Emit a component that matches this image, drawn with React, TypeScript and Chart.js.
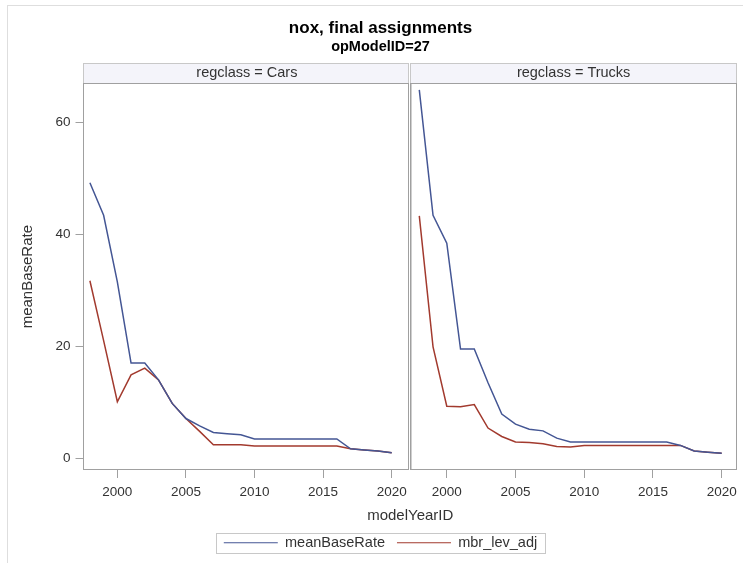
import React, { useEffect, useRef } from "react";
import { Chart, registerables } from "chart.js";

Chart.register(...registerables);

const YEARS = [1998, 1999, 2000, 2001, 2002, 2003, 2004, 2005, 2006, 2007, 2008, 2009, 2010, 2011, 2012, 2013, 2014, 2015, 2016, 2017, 2018, 2019, 2020];

const CARS_MEAN = [49.2, 43.4, 31.5, 17.0, 17.0, 14.0, 9.8, 7.1, 5.8, 4.6, 4.4, 4.2, 3.45, 3.45, 3.45, 3.45, 3.45, 3.45, 3.45, 1.7, 1.5, 1.3, 1.0];
const CARS_ADJ = [31.7, 21.0, 10.1, 14.9, 16.1, 14.0, 9.8, 7.1, 4.8, 2.4, 2.4, 2.4, 2.2, 2.2, 2.2, 2.2, 2.2, 2.2, 2.2, 1.7, 1.5, 1.3, 1.0];
const TRUCKS_MEAN = [65.8, 43.4, 38.4, 19.5, 19.5, 13.5, 7.9, 6.1, 5.2, 4.9, 3.6, 2.9, 2.9, 2.9, 2.9, 2.9, 2.9, 2.9, 2.9, 2.3, 1.3, 1.1, 0.9];
const TRUCKS_ADJ = [43.3, 19.9, 9.3, 9.2, 9.6, 5.4, 3.9, 2.9, 2.8, 2.6, 2.1, 2.0, 2.3, 2.3, 2.3, 2.3, 2.3, 2.3, 2.3, 2.3, 1.3, 1.1, 0.9];

const SERIES_NAMES = ["meanBaseRate", "mbr_lev_adj"];
const PANEL_NAMES = ["regclass = Cars", "regclass = Trucks"];
const TITLE = "nox, final assignments";
const SUBTITLE = "opModelID=27";
const X_TITLE = "modelYearID";
const Y_TITLE = "meanBaseRate";

const BLUE = "#445694";
const RED = "#A23A2E";
const FONT = "'Liberation Sans', Arial, sans-serif";
const TXT = "#333333";

const toPts = (vals: number[]) => YEARS.map((yr, i) => ({ x: yr, y: vals[i] }));

const panelPlugin = {
  id: "panelDecor",
  beforeDraw(chart: any) {
    const { ctx, chartArea } = chart;
    const x1 = chart.scales.x1;
    const x2 = chart.scales.x2;
    const hdr = chart.scales.hCars;
    ctx.save();
    // outer graph border
    ctx.strokeStyle = "#dedede";
    ctx.lineWidth = 1;
    ctx.strokeRect(7.5, 5.5, 900, 900);
    // header strips
    const stripTop = Math.round(hdr.top) + 0.5;
    const top = Math.round(chartArea.top) + 0.5;
    const bottom = Math.round(chartArea.bottom) - 0.5;
    const l1 = Math.floor(x1.left) + 0.5;
    const r1 = Math.round(x1.right) - 1.5;
    const l2 = Math.round(x2.left) + 0.5;
    const r2 = Math.round(x2.right) - 0.5;
    ctx.fillStyle = "#f4f4fa";
    ctx.fillRect(l1, stripTop, r1 - l1, top - stripTop);
    ctx.fillRect(l2, stripTop, r2 - l2, top - stripTop);
    ctx.strokeStyle = "#c8c8c8";
    ctx.strokeRect(l1, stripTop, r1 - l1, top - stripTop);
    ctx.strokeRect(l2, stripTop, r2 - l2, top - stripTop);
    // panel frames
    ctx.strokeStyle = "#a0a0a0";
    ctx.strokeRect(l1, top, r1 - l1, bottom - top);
    ctx.strokeRect(l2, top, r2 - l2, bottom - top);
    ctx.beginPath();
    ctx.moveTo(l2 + 0.5, top);
    ctx.lineTo(l2 + 0.5, bottom);
    ctx.stroke();
    ctx.restore();
  },
  afterDraw(chart: any) {
    const lg = chart.legend;
    if (!lg || !lg.legendHitBoxes || !lg.legendHitBoxes.length) return;
    const hb = lg.legendHitBoxes;
    const last = hb[hb.length - 1];
    const l = hb[0].left - 8;
    const r = last.left + last.width + 8;
    const cy = hb[0].top + hb[0].height / 2;
    const { ctx } = chart;
    ctx.save();
    ctx.strokeStyle = "#c8c8c8";
    ctx.lineWidth = 1;
    ctx.strokeRect(Math.round(l) + 0.5, Math.round(cy - 10) + 0.5, Math.round(r - l), 20);
    ctx.restore();
  },
};

const zeroPad = (s: any) => {
  s.paddingLeft = 0;
  s.paddingRight = 0;
  s.paddingTop = 0;
  s.paddingBottom = 0;
};

export default function App() {
  const ref = useRef<HTMLCanvasElement | null>(null);

  useEffect(() => {
    if (!ref.current) return;
    Chart.defaults.font.family = FONT;
    Chart.defaults.color = TXT;

    const tickFont = { family: FONT, size: 13.5 };
    const panelX = (min: number, max: number) => ({
      type: "linear",
      axis: "x",
      position: "bottom",
      stack: "panel",
      stackWeight: 1,
      display: true,
      min,
      max,
      grid: { drawOnChartArea: false, drawTicks: true, tickLength: 8, color: "#a0a0a0" },
      border: { display: false },
      ticks: {
        stepSize: 5,
        includeBounds: false,
        autoSkip: false,
        maxRotation: 0,
        padding: 6,
        font: tickFont,
        color: TXT,
        callback: (v: any) => String(v),
      },
      afterFit: (s: any) => {
        zeroPad(s);
        s.height = 29;
      },
    });
    const header = (text: string) => ({
      type: "linear",
      axis: "x",
      position: "top",
      stack: "hdr",
      stackWeight: 1,
      display: true,
      grid: { display: false, drawTicks: false },
      border: { display: false },
      ticks: { display: false },
      title: { display: true, text, color: TXT, font: { family: FONT, size: 14.5 }, padding: { top: 1.6, bottom: 0 } },
      afterFit: (s: any) => {
        zeroPad(s);
        s.height = 20.6;
      },
    });

    const chart = new Chart(ref.current, {
      type: "line",
      data: {
        datasets: [
          { label: SERIES_NAMES[0], data: toPts(CARS_MEAN), xAxisID: "x1", yAxisID: "y", borderColor: BLUE, backgroundColor: BLUE },
          { label: SERIES_NAMES[1], data: toPts(CARS_ADJ), xAxisID: "x1", yAxisID: "y", borderColor: RED, backgroundColor: RED },
          { label: SERIES_NAMES[0], data: toPts(TRUCKS_MEAN), xAxisID: "x2", yAxisID: "y", borderColor: BLUE, backgroundColor: BLUE },
          { label: SERIES_NAMES[1], data: toPts(TRUCKS_ADJ), xAxisID: "x2", yAxisID: "y", borderColor: RED, backgroundColor: RED },
        ],
      } as any,
      options: {
        animation: false,
        responsive: false,
        events: [],
        parsing: false,
        elements: {
          line: { borderWidth: 1.5, tension: 0, fill: false },
          point: { radius: 0, hoverRadius: 0 },
        },
        layout: { padding: { left: 24, right: 6, top: 19, bottom: 3 } },
        plugins: {
          title: {
            display: true,
            text: TITLE,
            color: "#000",
            font: { family: FONT, size: 17, weight: "bold", lineHeight: 1.15 },
            padding: { top: 0, bottom: 0 },
          },
          subtitle: {
            display: true,
            text: SUBTITLE,
            color: "#000",
            font: { family: FONT, size: 14.5, weight: "bold", lineHeight: 1.1 },
            padding: { top: 0, bottom: 8.2 },
          },
          legend: {
            display: true,
            position: "bottom",
            labels: {
              usePointStyle: true,
              pointStyle: "line",
              pointStyleWidth: 54,
              padding: 12,
              color: TXT,
              font: { family: FONT, size: 14.5 },
              filter: (item: any) => item.datasetIndex < 2,
            },
          },
          tooltip: { enabled: false },
        },
        scales: {
          x1: panelX(1997.533, 2021.353),
          x2: panelX(1997.342, 2021.114),
          xt: {
            type: "linear",
            axis: "x",
            position: "bottom",
            display: true,
            grid: { display: false, drawTicks: false },
            border: { display: false },
            ticks: { display: false },
            title: { display: true, text: X_TITLE, color: TXT, font: { family: FONT, size: 15 }, padding: { top: 0, bottom: -1 } },
            afterFit: (s: any) => {
              zeroPad(s);
              s.height = 24.5;
            },
          },
          // top boxes are laid out in reverse order, so the right-hand strip is listed first
          hTrucks: header(PANEL_NAMES[1]),
          hCars: header(PANEL_NAMES[0]),
          y: {
            type: "linear",
            position: "left",
            min: -2.09,
            max: 66.96,
            grid: { drawOnChartArea: false, drawTicks: true, tickLength: 8, color: "#a0a0a0" },
            border: { display: false },
            ticks: {
              stepSize: 20,
              includeBounds: false,
              padding: 5,
              font: tickFont,
              color: TXT,
              callback: (v: any) => String(v),
            },
            title: { display: true, text: Y_TITLE, color: TXT, font: { family: FONT, size: 15 }, padding: { top: -5, bottom: 0 } },
            afterFit: (s: any) => {
              zeroPad(s);
              s.width = 59.5;
            },
          },
        },
      } as any,
      plugins: [panelPlugin],
    });
    return () => chart.destroy();
  }, []);

  return (
    <div style={{ position: "absolute", left: 0, top: 0, width: 743, height: 563, background: "#fff" }}>
      <canvas ref={ref} width={743} height={563} style={{ width: 743, height: 563, display: "block" }} />
    </div>
  );
}
